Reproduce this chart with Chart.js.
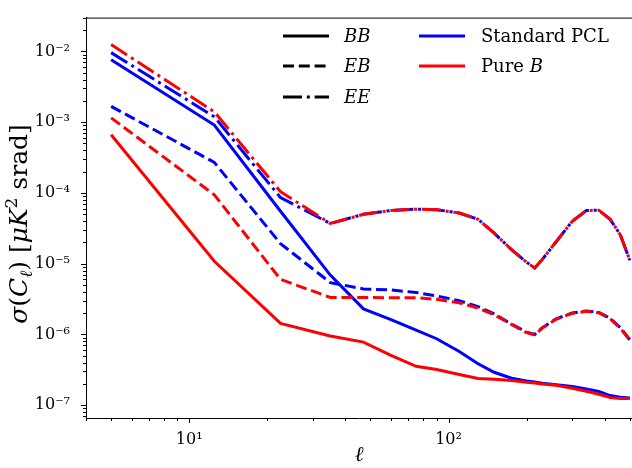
<!DOCTYPE html>
<html>
<head>
<meta charset="utf-8">
<script src="https://cdn.jsdelivr.net/npm/chart.js@4"></script>
<style>
  body { margin: 0; background: #fff; }
  canvas { display: block; }
</style>
</head>
<body>
<canvas id="chart" width="632" height="468"></canvas>
<script>
// multipole bins
const ells = [5, 12.5, 22.5, 35, 47, 60, 75, 90, 110, 130, 150, 175, 200, 215, 230, 260, 300, 340, 380, 420, 460, 500]

// sigma(C_l), standard PCL (blue) and pure-B (red)
const stdBB = [7.6e-3, 9.1e-4, 5.5e-5, 6.9e-6, 2.3e-6, 1.62e-6, 1.15e-6, 8.7e-7, 5.76e-7, 3.86e-7, 2.92e-7, 2.41e-7, 2.2e-7, 2.13e-7, 2.05e-7, 1.95e-7, 1.84e-7, 1.7e-7, 1.56e-7, 1.37e-7, 1.3e-7, 1.27e-7]
const pureBB = [6.65e-4, 1.08e-5, 1.43e-6, 9.5e-7, 7.8e-7, 5.08e-7, 3.55e-7, 3.2e-7, 2.72e-7, 2.39e-7, 2.32e-7, 2.23e-7, 2.11e-7, 2.06e-7, 2.0e-7, 1.91e-7, 1.74e-7, 1.58e-7, 1.43e-7, 1.28e-7, 1.24e-7, 1.24e-7]
const stdEB = [1.67e-3, 2.7e-4, 1.92e-5, 5.4e-6, 4.4e-6, 4.25e-6, 3.92e-6, 3.5e-6, 3.0e-6, 2.47e-6, 1.95e-6, 1.4e-6, 1.08e-6, 1.0e-6, 1.25e-6, 1.66e-6, 2.01e-6, 2.14e-6, 2.05e-6, 1.69e-6, 1.25e-6, 8.4e-7]
const pureEB = [1.15e-3, 9.4e-5, 6.0e-6, 3.34e-6, 3.34e-6, 3.3e-6, 3.3e-6, 3.14e-6, 2.8e-6, 2.36e-6, 1.9e-6, 1.38e-6, 1.06e-6, 9.8e-7, 1.23e-6, 1.64e-6, 1.99e-6, 2.12e-6, 2.03e-6, 1.67e-6, 1.23e-6, 8.3e-7]
const stdEE = [9.6e-3, 1.19e-3, 8.6e-5, 3.7e-5, 4.98e-5, 5.65e-5, 5.9e-5, 5.8e-5, 5.2e-5, 4.25e-5, 2.7e-5, 1.58e-5, 1.05e-5, 8.67e-6, 1.15e-5, 2.04e-5, 3.98e-5, 5.65e-5, 5.7e-5, 4.25e-5, 2.55e-5, 1.12e-5]
const pureEE = [1.25e-2, 1.4e-3, 1.04e-4, 3.7e-5, 4.98e-5, 5.65e-5, 5.9e-5, 5.8e-5, 5.2e-5, 4.25e-5, 2.7e-5, 1.58e-5, 1.05e-5, 8.67e-6, 1.15e-5, 2.04e-5, 3.98e-5, 5.65e-5, 5.7e-5, 4.25e-5, 2.55e-5, 1.12e-5]

const xTicks = [10, 100]
const yTicks = [1e-7, 1e-6, 1e-5, 1e-4, 1e-3, 1e-2]

const BLUE = '#0000ff'
const RED = '#ff0000'
const SERIF = '"DejaVu Serif", "Liberation Serif", serif'
const DASHED = [11, 4.8]
const DASHDOT = [19, 4.8, 3, 4.8]

const supMap = { '-': '⁻', '0': '⁰', '1': '¹', '2': '²', '3': '³', '4': '⁴', '5': '⁵', '6': '⁶', '7': '⁷', '8': '⁸', '9': '⁹' }
const powLabel = (v) => '10' + String(Math.round(Math.log10(v))).split('').map(c => supMap[c]).join('')

const line = (vals, color, dash, order) => ({
  data: ells.map((l, i) => ({ x: l, y: vals[i] })),
  borderColor: color,
  borderWidth: 3,
  borderDash: dash,
  borderCapStyle: 'butt',
  pointRadius: 0,
  tension: 0,
  fill: false,
  order
})

// draws a run of text pieces with their own fonts / offsets
const richText = (ctx, parts, x, y) => {
  let w = 0
  parts.forEach(p => { ctx.font = p[1]; w += ctx.measureText(p[0]).width })
  let cx = x - w / 2
  parts.forEach(p => {
    ctx.font = p[1]
    ctx.fillText(p[0], cx, y + (p[2] || 0))
    cx += ctx.measureText(p[0]).width
  })
}

const extras = {
  id: 'extras',
  afterDraw(chart) {
    const { ctx, chartArea: a, scales: { x, y } } = chart
    ctx.save()
    ctx.strokeStyle = '#000'
    ctx.lineWidth = 1
    // top spine
    ctx.beginPath()
    ctx.moveTo(a.left, a.top + 0.5)
    ctx.lineTo(a.right, a.top + 0.5)
    ctx.stroke()
    // tick marks, major + minor
    ctx.beginPath()
    for (let e = -8; e <= 3; e++) {
      for (let m = 1; m <= 9; m++) {
        const v = m * Math.pow(10, e)
        const len = m === 1 ? 5 : 3
        if (v >= y.min && v <= y.max) {
          const py = Math.round(y.getPixelForValue(v)) + 0.5
          ctx.moveTo(a.left - len, py)
          ctx.lineTo(a.left, py)
        }
        if (v >= x.min && v <= x.max) {
          const px = Math.round(x.getPixelForValue(v)) + 0.5
          ctx.moveTo(px, a.bottom)
          ctx.lineTo(px, a.bottom + len)
        }
      }
    }
    ctx.stroke()

    // axis titles
    ctx.fillStyle = '#000'
    ctx.textBaseline = 'alphabetic'
    ctx.textAlign = 'left'
    richText(ctx, [['ℓ', 'italic 21px ' + SERIF]], (a.left + a.right) / 2, 461)
    ctx.save()
    ctx.translate(27, 224)
    ctx.rotate(-Math.PI / 2)
    richText(ctx, [
      ['σ', 'italic 25px ' + SERIF],
      ['(', '25px ' + SERIF],
      ['C', 'italic 25px ' + SERIF],
      ['ℓ', 'italic 17px ' + SERIF, 5],
      [')', '25px ' + SERIF],
      [' [', '25px ' + SERIF],
      ['μK', 'italic 25px ' + SERIF],
      ['2', '17px ' + SERIF, -10],
      [' srad]', '25px ' + SERIF]
    ], 0, 0)
    ctx.restore()

    // legend
    const styles = [['BB', []], ['EB', DASHED], ['EE', DASHDOT]]
    const rows = [36, 66, 97]
    ctx.lineWidth = 3
    ctx.lineCap = 'butt'
    styles.forEach((s, i) => {
      ctx.strokeStyle = '#000'
      ctx.setLineDash(s[1])
      ctx.beginPath()
      ctx.moveTo(283, rows[i])
      ctx.lineTo(329, rows[i])
      ctx.stroke()
      ctx.font = 'italic 18px ' + SERIF
      ctx.textBaseline = 'middle'
      ctx.fillText(s[0], 344, rows[i] + 1)
    })
    ctx.setLineDash([])
    const names = [[BLUE, [['Standard PCL', '18px ' + SERIF]]], [RED, [['Pure ', '18px ' + SERIF], ['B', 'italic 18px ' + SERIF]]]]
    names.forEach((n, i) => {
      ctx.strokeStyle = n[0]
      ctx.beginPath()
      ctx.moveTo(419, rows[i])
      ctx.lineTo(465, rows[i])
      ctx.stroke()
      let cx = 481
      n[1].forEach(p => {
        ctx.font = p[1]
        ctx.fillText(p[0], cx, rows[i] + 1)
        cx += ctx.measureText(p[0]).width
      })
    })
    ctx.restore()
  }
}

new Chart(document.getElementById('chart'), {
  type: 'line',
  data: {
    datasets: [
      line(stdBB, BLUE, [], 6),
      line(stdEB, BLUE, DASHED, 5),
      line(stdEE, BLUE, DASHDOT, 4),
      line(pureBB, RED, [], 3),
      line(pureEB, RED, DASHED, 2),
      line(pureEE, RED, DASHDOT, 1)
    ]
  },
  options: {
    responsive: false,
    animation: false,
    layout: { padding: { left: 0, right: 0, top: 8, bottom: 0 } },
    plugins: { legend: { display: false }, tooltip: { enabled: false } },
    scales: {
      x: {
        type: 'logarithmic',
        min: 4,
        max: 510,
        afterBuildTicks: (ax) => { ax.ticks = xTicks.map(v => ({ value: v })) },
        afterFit: (ax) => { ax.height = 50 },
        grid: { display: false },
        border: { display: true, color: '#000', width: 1 },
        ticks: { callback: (v) => powLabel(v), color: '#000', font: { family: SERIF, size: 16 }, padding: 4, maxRotation: 0, autoSkip: false }
      },
      y: {
        type: 'logarithmic',
        min: 6.6e-8,
        max: 3.0e-2,
        afterBuildTicks: (ax) => { ax.ticks = yTicks.map(v => ({ value: v })) },
        afterFit: (ax) => { ax.width = 86 },
        grid: { display: false },
        border: { display: true, color: '#000', width: 1 },
        ticks: { callback: (v) => powLabel(v), color: '#000', font: { family: SERIF, size: 16 }, padding: 8, autoSkip: false }
      }
    }
  },
  plugins: [extras]
})
</script>
</body>
</html>
